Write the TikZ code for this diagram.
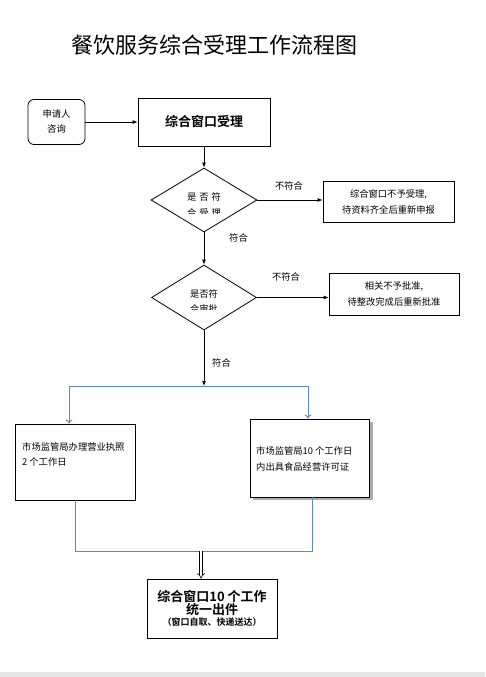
\documentclass[tikz,border=0pt]{standalone}
\usepackage{fontspec}
\setmainfont{Noto Sans CJK SC}[BoldFont={Noto Sans CJK SC Bold}]
\usetikzlibrary{arrows.meta,shapes.geometric}
\definecolor{lineblue}{RGB}{95,135,190}
\begin{document}
\begin{tikzpicture}[x=1pt,y=-1pt,
  box/.style={draw, line width=0.8pt, inner sep=0pt, align=center, fill=white},
  dia/.style={draw, diamond, line width=0.8pt, inner sep=0pt},
  lab/.style={font=\fontsize{9.3}{11}\selectfont, inner sep=0pt, align=center},
  arr/.style={draw, line width=0.8pt, -{Latex[length=5pt,width=4pt]}},
  bl/.style={draw=lineblue, line width=0.9pt},
  blarr/.style={draw=lineblue, line width=0.9pt, -{To[length=4pt,width=7pt]}}
]
\useasboundingbox (0,0) rectangle (485,677);
\fill[gray!20] (0,672) rectangle (485,677);

\node[inner sep=0pt] (title) at (214,45) {\fontsize{22}{24}\selectfont 餐饮服务综合受理工作流程图};

\node[box, rounded corners=6pt, minimum width=57pt, minimum height=45pt, font=\fontsize{9.3}{15}\selectfont] (apply) at (56.5,122) {申请人\\咨询};
\node[box, minimum width=132pt, minimum height=48pt, font=\fontsize{13}{15}\selectfont\bfseries] (accept) at (204,122) {综合窗口受理};

\node[dia, minimum width=106pt, minimum height=64pt] (d1) at (204,200) {};
\begin{scope}
  \clip (152,185) rectangle (256,213.5);
  \node[lab] at (204,197) {是\hspace{3pt}否\hspace{3pt}符};
  \node[lab] at (204,213) {合\hspace{3pt}受\hspace{3pt}理};
\end{scope}

\node[box, minimum width=131pt, minimum height=41pt, font=\fontsize{9.3}{16}\selectfont] (r1) at (388.5,201.5) {综合窗口不予受理,\\待资料齐全后重新申报};

\node[dia, minimum width=105pt, minimum height=65pt] (d2) at (204,297.5) {};
\begin{scope}
  \clip (152,283) rectangle (256,309.5);
  \node[lab] at (204,294) {是否符};
  \node[lab] at (204,309) {合审批};
\end{scope}

\node[box, minimum width=130pt, minimum height=42pt, font=\fontsize{9.3}{16}\selectfont] (r2) at (394,294) {相关不予批准,\\待整改完成后重新批准};

\coordinate (j) at (204,386);
\coordinate (jl) at (69,386);
\coordinate (jr) at (308,386);

\node[box, minimum width=120pt, minimum height=76pt] (L) at (75,462) {};
\node[lab, anchor=west, align=left, font=\fontsize{9.3}{15}\selectfont] (Lt) at (22,454.5) {市场监管局办理营业执照\\2 个工作日};

\fill[gray!65] (253,422) rectangle (372.5,500);
\node[box, minimum width=119pt, minimum height=78pt] (R) at (309.5,458) {};
\node[lab, anchor=west, align=left, font=\fontsize{9.3}{16}\selectfont] (Rt) at (256,458.5) {市场监管局10 个工作日\\内出具食品经营许可证};

\coordinate (bl1) at (75,551);
\coordinate (br1) at (312,551);
\coordinate (m) at (201,551);

\node[box, minimum width=130pt, minimum height=59pt, align=center] (F) at (212,608.5)
  {\fontsize{13}{15}\selectfont\bfseries 综合窗口10 个工作\\\fontsize{13}{15}\selectfont\bfseries 统一出件\\[-1pt]\fontsize{9}{11}\selectfont\bfseries （窗口自取、快递送达）};

% connectors
\draw[arr] (apply.east) -- (accept.west);
\draw[arr] (accept.south) -- (d1.north);
\draw[arr] (d1.east) -- (r1.west |- d1.east);
\draw[arr] (d1.south) -- (d2.north);
\draw[arr] (d2.east) -- (r2.west |- d2.east);
\draw[arr] (d2.south) -- (j);

\draw[bl] (j) -- (jl);
\draw[blarr] (jl) -- (jl |- L.north);
\draw[bl] (j) -- (jr);
\draw[blarr] (jr) -- (jr |- R.north);

\draw[bl] (L.south) -- (bl1) -- (br1) -- (br1 |- R.south);
\draw[double, double distance=2.2pt, line width=0.6pt, -{Implies}] (m) -- (F.north -| m);

% labels
\node[lab] (n1) at (289,186) {不符合};
\node[lab] (y1) at (238.5,238) {符合};
\node[lab] (n2) at (286,277) {不符合};
\node[lab] (y2) at (221.5,363) {符合};
\end{tikzpicture}
\end{document}
